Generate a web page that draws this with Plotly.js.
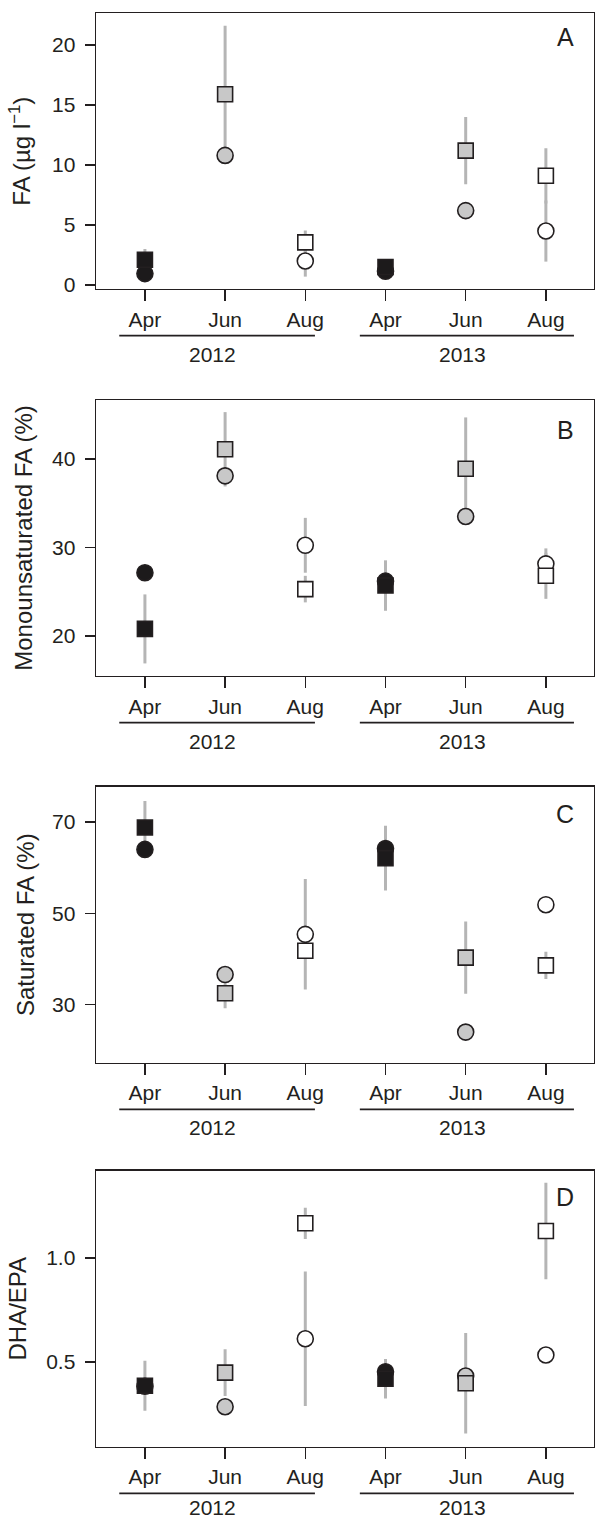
<!DOCTYPE html>
<html>
<head>
<meta charset="utf-8">
<script src="https://cdn.plot.ly/plotly-3.0.1.min.js"></script>
<style>
  html, body { margin: 0; padding: 0; background: #ffffff; }
  #chart { width: 595px; height: 1521px; }
</style>
</head>
<body>
<div id="chart"></div>
<script>
// ---- Data ----
const months = ['Apr', 'Jun', 'Aug', 'Apr', 'Jun', 'Aug'];
const years = ['2012', '2013'];
const panelLetters = ['A', 'B', 'C', 'D'];
const yTitles = ['FA (µg l<sup>−1</sup>)', 'Monounsaturated FA (%)', 'Saturated FA (%)', 'DHA/EPA'];

// Panel A: FA (µg l-1)
const faSquare    = [2.1, 15.9, 3.55, 1.5, 11.2, 9.1];
const faSquareErr = [0.9, 5.7, 1.0, 0, 2.8, 2.3];
const faCircle    = [0.95, 10.8, 2.0, 1.15, 6.2, 4.5];
const faCircleErr = [0, 0, 1.3, 0, 0, 2.55];

// Panel B: Monounsaturated FA (%)
const mufaSquare    = [20.8, 41.1, 25.3, 25.7, 38.9, 26.8];
const mufaSquareErr = [3.9, 4.2, 1.5, 2.85, 5.8, 2.6];
const mufaCircle    = [27.15, 38.1, 30.25, 26.2, 33.5, 28.15];
const mufaCircleErr = [0, 0, 3.1, 0, 0, 1.75];

// Panel C: Saturated FA (%)
const safaSquare    = [68.8, 32.5, 41.8, 62.1, 40.3, 38.6];
const safaSquareErr = [5.8, 3.3, 0, 7.1, 7.9, 3.0];
const safaCircle    = [64.0, 36.6, 45.4, 64.2, 24.0, 51.9];
const safaCircleErr = [0, 0, 12.1, 0, 0, 0];

// Panel D: DHA/EPA
const dhaSquare    = [0.386, 0.449, 1.167, 0.42, 0.398, 1.13];
const dhaSquareErr = [0.12, 0.112, 0.075, 0.095, 0.242, 0.232];
const dhaCircle    = [0.384, 0.285, 0.612, 0.453, 0.433, 0.534];
const dhaCircleErr = [0, 0, 0.323, 0, 0, 0];

const yTickVals = [[0, 5, 10, 15, 20], [20, 30, 40], [30, 50, 70], [0.5, 1.0]];
const yTickText = [['0', '5', '10', '15', '20'], ['20', '30', '40'], ['30', '50', '70'], ['0.5', '1.0']];

// ---- Styles / layout helpers ----
const fillByMonth = { Apr: '#1c1a1b', Jun: '#c8c8c8', Aug: '#ffffff' };
const ink = '#231f20';
const errColor = '#b5b5b5';
const fontFam = 'Liberation Sans, Arial, Helvetica, sans-serif';

const panels = [
  { sq: faSquare, sqE: faSquareErr, ci: faCircle, ciE: faCircleErr },
  { sq: mufaSquare, sqE: mufaSquareErr, ci: mufaCircle, ciE: mufaCircleErr },
  { sq: safaSquare, sqE: safaSquareErr, ci: safaCircle, ciE: safaCircleErr },
  { sq: dhaSquare, sqE: dhaSquareErr, ci: dhaCircle, ciE: dhaCircleErr }
];

const domains = [[0.8100, 0.99126], [0.55556, 0.73702], [0.30132, 0.48277], [0.04885, 0.23031]];
const yRanges = [[-0.33, 22.64], [15.48, 46.67], [17.3, 77.73], [0.093, 1.42]];
const letterY = [0.913, 0.891, 0.901, 0.906];
const titleStandoff = [14, 12, 10, 12];
const yearLabelY = [-0.236, -0.236, -0.236, -0.222];

const xIdx = months.map((_, i) => i);
const fills = months.map(m => fillByMonth[m]);

const traces = [];
const layout = {
  width: 595, height: 1521,
  margin: { l: 96, r: 1, t: 0, b: 0 },
  paper_bgcolor: '#ffffff', plot_bgcolor: '#ffffff',
  showlegend: false,
  font: { family: fontFam, color: ink, size: 21 },
  shapes: [], annotations: []
};

panels.forEach((p, k) => {
  const sfx = k === 0 ? '' : String(k + 1);
  const xa = 'x' + sfx, ya = 'y' + sfx;
  const errBase = {
    type: 'scatter', mode: 'markers', x: xIdx, xaxis: xa, yaxis: ya,
    marker: { size: 1, opacity: 0 }, hoverinfo: 'skip'
  };
  traces.push(Object.assign({}, errBase, {
    y: p.ci, error_y: { type: 'data', array: p.ciE, visible: true, color: errColor, thickness: 3, width: 0 }
  }));
  traces.push(Object.assign({}, errBase, {
    y: p.sq, error_y: { type: 'data', array: p.sqE, visible: true, color: errColor, thickness: 3, width: 0 }
  }));
  traces.push({
    type: 'scatter', mode: 'markers', x: xIdx, y: p.ci, xaxis: xa, yaxis: ya, name: 'circle',
    marker: { symbol: 'circle', size: 16, color: fills, line: { color: ink, width: 1.6 } }
  });
  traces.push({
    type: 'scatter', mode: 'markers', x: xIdx, y: p.sq, xaxis: xa, yaxis: ya, name: 'square',
    marker: { symbol: 'square', size: 15, color: fills, line: { color: ink, width: 1.6 } }
  });

  layout['xaxis' + sfx] = {
    anchor: ya, domain: [0, 1], range: [-0.61, 5.6],
    tickmode: 'array', tickvals: xIdx, ticktext: months,
    ticks: 'outside', ticklen: 11, tickwidth: 1.3, tickcolor: ink,
    showline: true, mirror: true, linecolor: ink, linewidth: 1.4,
    showgrid: false, zeroline: false, fixedrange: true,
    tickfont: { size: 21, family: fontFam, color: ink }
  };
  layout['yaxis' + sfx] = {
    anchor: xa, domain: domains[k], range: yRanges[k],
    tickmode: 'array', tickvals: yTickVals[k], ticktext: yTickText[k],
    ticks: 'outside', ticklen: 10, tickwidth: 1.3, tickcolor: ink,
    ticklabelstandoff: 5,
    showline: true, mirror: true, linecolor: ink, linewidth: 1.4,
    showgrid: false, zeroline: false, fixedrange: true,
    tickfont: { size: 21, family: fontFam, color: ink },
    title: { text: yTitles[k], font: { size: 24, family: fontFam, color: ink }, standoff: titleStandoff[k] }
  };

  // Year underline segments and labels
  const yearSpans = [[-0.32, 2.12], [2.68, 5.35]];
  const yearCenters = [0.84, 3.96];
  yearSpans.forEach((s, j) => {
    layout.shapes.push({
      type: 'line', xref: xa, yref: ya + ' domain',
      x0: s[0], x1: s[1], y0: -0.169, y1: -0.169,
      line: { color: ink, width: 1.7 }
    });
    layout.annotations.push({
      xref: xa, yref: ya + ' domain', x: yearCenters[j], y: yearLabelY[k],
      text: years[j], showarrow: false, xanchor: 'center', yanchor: 'middle',
      font: { size: 21, family: fontFam, color: ink }
    });
  });

  layout.annotations.push({
    xref: xa + ' domain', yref: ya + ' domain', x: 0.9426, y: letterY[k],
    text: panelLetters[k], showarrow: false, xanchor: 'center', yanchor: 'middle',
    font: { size: 25, family: fontFam, color: ink }
  });
});

Plotly.newPlot('chart', traces, layout, { staticPlot: true, displayModeBar: false });
</script>
</body>
</html>
